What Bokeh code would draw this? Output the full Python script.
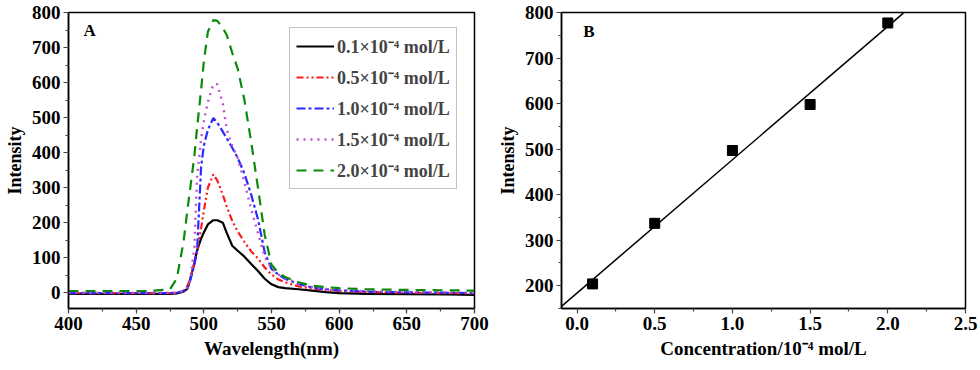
import numpy as np
from bokeh.plotting import figure
from bokeh.layouts import row
from bokeh.models import Range1d, Legend, LegendItem, Label, SingleIntervalTicker, FixedTicker
from bokeh.embed import file_html
from bokeh.resources import INLINE

# ---------------- data ----------------
wavelength = [400, 430, 460, 475, 480, 485, 488, 490, 493, 495, 498, 500, 503, 507, 510, 514, 517,
              521, 525, 530, 535, 540, 545, 550, 555, 560, 570, 580, 590, 600, 620, 650, 680, 700]
c01 = [-3, -3, -3, -3, -2, 3, 12, 40, 85, 120, 155, 172, 195, 207, 207, 200, 170,
       134, 120, 103, 82, 62, 40, 24, 16, 13, 10, 6, 2, -1, -3, -4, -5, -6]
c05 = [-1, -1, -1, -1, 0, 5, 20, 40, 85, 120, 185, 234, 300, 338, 320, 280, 245,
       205, 175, 145, 118, 98, 72, 52, 38, 30, 18, 12, 8, 5, 2, 0, -1, -2]
c10 = [-1, -1, -1, -1, 0, 5, 15, 35, 80, 120, 360, 420, 465, 499, 485, 460, 440,
       414, 385, 340, 280, 210, 115, 68, 52, 40, 25, 15, 10, 7, 3, 1, 0, -1]
c15 = [0, 0, 0, 0, 0, 5, 15, 40, 130, 330, 440, 490, 545, 595, 595, 540, 465,
       420, 385, 315, 238, 170, 102, 70, 52, 42, 26, 16, 11, 8, 4, 2, 1, 0]
c20 = [5, 5, 5, 10, 40, 145, 240, 300, 390, 470, 580, 660, 745, 778, 776, 756, 735,
       685, 640, 550, 430, 300, 165, 80, 57, 45, 30, 20, 16, 13, 10, 8, 7, 6]
series_labels = ["0.1\u00d710\u207b\u2074 mol/L", "0.5\u00d710\u207b\u2074 mol/L",
                 "1.0\u00d710\u207b\u2074 mol/L", "1.5\u00d710\u207b\u2074 mol/L",
                 "2.0\u00d710\u207b\u2074 mol/L"]

concentration = [0.1, 0.5, 1.0, 1.5, 2.0]
peak_intensity = [204, 337, 497, 598, 777]
fit_x = [-0.1, 2.1]

FONT = "Liberation Serif"


def style(p, xlabel, ylabel):
    for ax in (p.xaxis[0], p.yaxis[0]):
        ax.axis_line_width = 1.5
        ax.axis_line_color = "black"
        ax.major_tick_out = 5
        ax.major_tick_in = 0
        ax.minor_tick_out = 3
        ax.minor_tick_in = 0
        ax.major_tick_line_width = 1.2
        ax.minor_tick_line_width = 1.2
        ax.major_tick_line_color = "#444444"
        ax.minor_tick_line_color = "#444444"
        ax.major_label_text_font = FONT
        ax.major_label_text_font_style = "bold"
        ax.major_label_text_font_size = "19px"
        ax.major_label_text_color = "black"
        ax.axis_label_text_font = FONT
        ax.axis_label_text_font_style = "bold"
        ax.axis_label_text_color = "black"
        ax.major_label_standoff = 3
    p.xaxis.axis_label = xlabel
    p.yaxis.axis_label = ylabel
    p.xaxis.axis_label_text_font_size = "19px"
    p.yaxis.axis_label_text_font_size = "18px"
    p.xaxis.axis_label_standoff = 5
    p.yaxis.axis_label_standoff = 4
    p.grid.visible = False
    p.outline_line_color = "black"
    p.outline_line_width = 1.5
    p.outline_line_alpha = 1.0
    p.background_fill_color = "white"
    p.border_fill_color = "white"


# ---------------- panel A ----------------
pA = figure(width=490, height=366, output_backend="svg", toolbar_location=None,
            x_range=Range1d(400, 700), y_range=Range1d(-45, 800),
            min_border_left=68, min_border_right=16, min_border_top=11, min_border_bottom=58)
style(pA, "Wavelength(nm)", "Intensity")
pA.xaxis.ticker = SingleIntervalTicker(interval=50, num_minor_ticks=2)
pA.yaxis.ticker = SingleIntervalTicker(interval=100, num_minor_ticks=2)

specs = [
    (c01, "black", "solid", 2.2),
    (c05, "#ff1a1a", "7 3 2 3 2 3", 2.2),
    (c10, "#2a2aff", "9 3 3 3", 2.2),
    (c15, "#c050d0", "2 5", 2.4),
    (c20, "#0a8a0a", "10 7", 2.2),
]
items = []
for (vals, col, dash, w), lab in zip(specs, series_labels):
    r = pA.line(wavelength, vals, line_color=col, line_dash=dash, line_width=w)
    items.append(LegendItem(label=lab, renderers=[r]))

legend = Legend(items=items, location=(221, 119))
legend.label_text_font = FONT
legend.label_text_font_style = "bold"
legend.label_text_font_size = "18px"
legend.label_standoff = 3
legend.glyph_width = 38
legend.glyph_height = 20
legend.label_height = 20
legend.spacing = 7
legend.padding = 6
legend.margin = 0
legend.border_line_color = "#888888"
legend.border_line_width = 1.2
legend.background_fill_alpha = 1.0
pA.add_layout(legend, "center")

pA.add_layout(Label(x=411, y=722, text="A", text_font=FONT, text_font_style="bold",
                    text_font_size="17px", text_color="black"))

# ---------------- panel B ----------------
pB = figure(width=490, height=366, output_backend="svg", toolbar_location=None,
            x_range=Range1d(-0.1, 2.5), y_range=Range1d(150, 800),
            min_border_left=71, min_border_right=15, min_border_top=12, min_border_bottom=58)
style(pB, "Concentration/10\u207b\u2074 mol/L", "Intensity")
pB.xaxis.ticker = FixedTicker(ticks=[0.0, 0.5, 1.0, 1.5, 2.0, 2.5],
                              minor_ticks=[0.25, 0.75, 1.25, 1.75, 2.25])
pB.yaxis.ticker = FixedTicker(ticks=[200, 300, 400, 500, 600, 700, 800],
                              minor_ticks=[150, 250, 350, 450, 550, 650, 750])
pB.xaxis.major_label_overrides = {0.0: "0.0", 0.5: "0.5", 1.0: "1.0", 1.5: "1.5", 2.0: "2.0", 2.5: "2.5"}

slope, intercept = np.polyfit(concentration, peak_intensity, 1)
fit_y = [slope * x + intercept for x in fit_x]
pB.line(fit_x, fit_y, line_color="black", line_width=1.5)
pB.scatter(concentration, peak_intensity, marker="square", size=10, color="black")
pB.add_layout(Label(x=0.04, y=738, text="B", text_font=FONT, text_font_style="bold",
                    text_font_size="17px", text_color="black"))

layout = row(pA, pB)
open("out.html", "w").write(file_html(layout, INLINE))
